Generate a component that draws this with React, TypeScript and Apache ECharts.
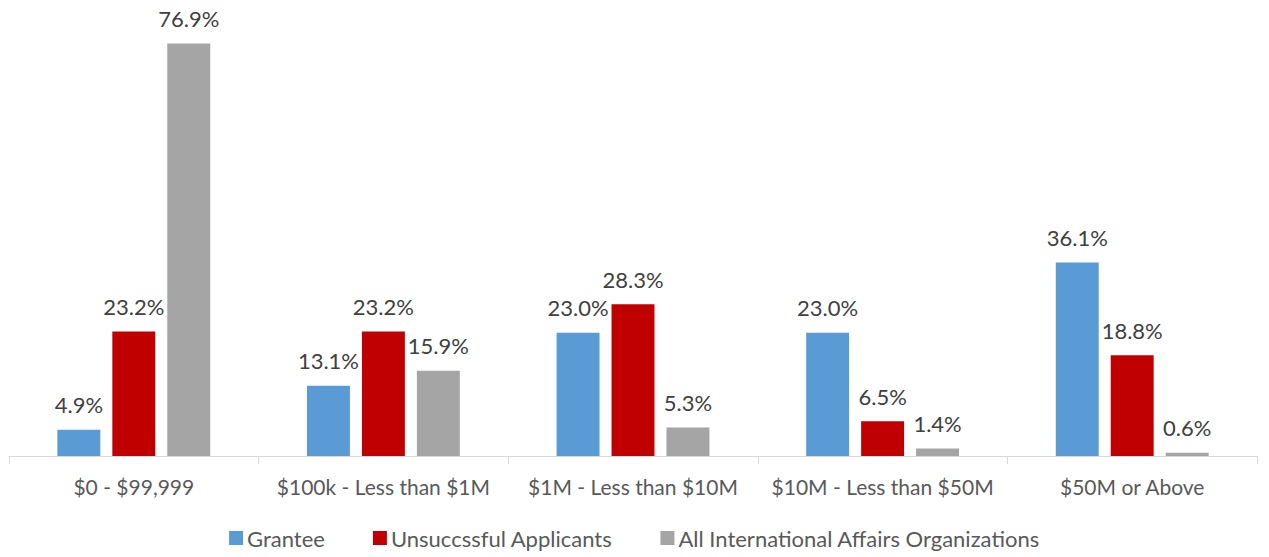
import React, { useEffect, useRef } from "react";
import * as echarts from "echarts";

const categories = [
  "$0 - $99,999",
  "$100k - Less than $1M",
  "$1M - Less than $10M",
  "$10M - Less than $50M",
  "$50M or Above",
];
const seriesNames = ["Grantee", "Unsuccssful Applicants", "All International Affairs Organizations"];
const grantee = [4.9, 13.1, 23.0, 23.0, 36.1];
const unsuccessful = [23.2, 23.2, 28.3, 6.5, 18.8];
const allOrgs = [76.9, 15.9, 5.3, 1.4, 0.6];
const colors = ["#5B9BD5", "#C00000", "#A5A5A5"];

export default function App() {
  const ref = useRef<HTMLDivElement>(null);
  useEffect(() => {
    document.body.style.margin = "0";
    if (!ref.current) return;
    const chart = echarts.init(ref.current, null, { renderer: "svg" });
    const font = "Lato, 'Open Sans', sans-serif";
    const values = [grantee, unsuccessful, allOrgs];
    chart.setOption({
      animation: false,
      textStyle: { fontFamily: font },
      grid: { left: 9, right: 12, top: 27, bottom: 101, containLabel: false },
      legend: {
        left: "center",
        bottom: 3,
        itemWidth: 14,
        itemHeight: 14,
        itemGap: 48,
        icon: "rect",
        textStyle: { fontFamily: font, fontSize: 22, color: "#595959", padding: [0, 0, 0, -1] },
        data: seriesNames,
      },
      xAxis: {
        type: "category",
        data: categories,
        axisLine: { lineStyle: { color: "#D9D9D9", width: 1 } },
        axisTick: { show: true, interval: 0, length: 8, lineStyle: { color: "#D9D9D9" } },
        axisLabel: { interval: 0, fontFamily: font, fontSize: 21, color: "#595959", margin: 20 },
      },
      yAxis: {
        type: "value",
        min: 0,
        max: 80,
        show: false,
        splitLine: { show: false },
      },
      series: seriesNames.map((name, i) => ({
        name,
        type: "bar",
        data: values[i],
        barWidth: "17.2%",
        barGap: "28%",
        itemStyle: { color: colors[i] },
        label: {
          show: true,
          position: "top",
          distance: 14,
          fontFamily: font,
          fontSize: 22,
          color: "#404040",
          formatter: (p: any) => Number(p.value).toFixed(1) + "%",
        },
      })),
    });
    return () => chart.dispose();
  }, []);
  return <div ref={ref} style={{ width: 1269, height: 557 }} />;
}
